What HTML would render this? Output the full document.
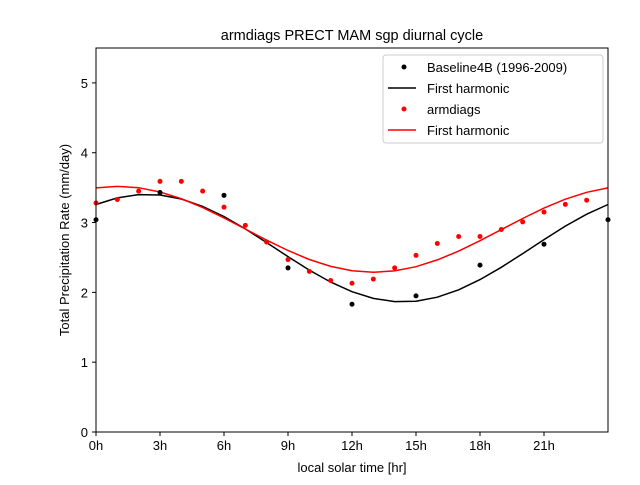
<!DOCTYPE html>
<html><head><meta charset="utf-8"><style>
body{margin:0;background:#fff}
svg{font-family:"Liberation Sans","DejaVu Sans",sans-serif}
</style></head><body>
<svg width="640" height="480" id="c">
<rect width="640" height="480" fill="#fff"/>
<text x="352" y="40" text-anchor="middle" font-size="14.5">armdiags PRECT MAM sgp diurnal cycle</text>
<text x="352" y="472" text-anchor="middle" font-size="13">local solar time [hr]</text>
<text transform="translate(69,240) rotate(-90)" text-anchor="middle" font-size="13">Total Precipitation Rate (mm/day)</text>
<g id="ticks"></g>
<g id="marks"></g>
<rect x="96" y="48" width="512" height="384" fill="none" stroke="#000" stroke-width="1"/>
<g>
<rect x="383" y="55" width="220" height="88" rx="3" fill="#fff" fill-opacity="0.8" stroke="#ccc"/>
<circle cx="404" cy="67" r="2.5" fill="#000"/><text x="427" y="72" font-size="13">Baseline4B (1996-2009)</text>
<line x1="388" y1="88" x2="416" y2="88" stroke="#000" stroke-width="1.5"/><text x="427" y="93" font-size="13">First harmonic</text>
<circle cx="404" cy="109" r="2.5" fill="red"/><text x="427" y="114" font-size="13">armdiags</text>
<line x1="388" y1="130" x2="416" y2="130" stroke="red" stroke-width="1.5"/><text x="427" y="135" font-size="13">First harmonic</text>
</g>
</svg>
<script>
const obsHours=[0,3,6,9,12,15,18,21,24];
const obsVals=[3.04,3.43,3.39,2.35,1.83,1.95,2.39,2.69,3.04];
const modHours=[0,1,2,3,4,5,6,7,8,9,10,11,12,13,14,15,16,17,18,19,20,21,22,23];
const modVals=[3.28,3.33,3.45,3.59,3.59,3.45,3.22,2.96,2.72,2.47,2.30,2.17,2.13,2.19,2.35,2.53,2.70,2.80,2.80,2.90,3.01,3.15,3.26,3.32];
const xTicks=[0,3,6,9,12,15,18,21];
const xTickLabels=["0h","3h","6h","9h","12h","15h","18h","21h"];
const yTicks=[0,1,2,3,4,5];
const X=h=>96+h*512/24, Y=v=>432-v*384/5.5;
const NS="http://www.w3.org/2000/svg";
function mk(t,a,p){const e=document.createElementNS(NS,t);for(const k in a)e.setAttribute(k,a[k]);p.appendChild(e);return e;}
const tg=document.getElementById('ticks'), mg=document.getElementById('marks');
xTicks.forEach((t,i)=>{const l=mk('line',{x1:X(t),x2:X(t),y1:432,y2:436,stroke:'#000'},tg);


const tx=mk('text',{x:X(t),y:450,'text-anchor':'middle','font-size':13},tg);tx.textContent=xTickLabels[i];

});
yTicks.forEach(t=>{const l=mk('line',{x1:92,x2:96,y1:Y(t),y2:Y(t),stroke:'#000'},tg);


const tx=mk('text',{x:88,y:Y(t)+5,'text-anchor':'end','font-size':13},tg);tx.textContent=t;

});
function harm(hs,vs){const n=hs.length;let m=0,a=0,b=0;for(let i=0;i<n;i++){const w=2*Math.PI*hs[i]/24;m+=vs[i];a+=vs[i]*Math.cos(w);b+=vs[i]*Math.sin(w);}
m/=n;a*=2/n;b*=2/n;return h=>m+a*Math.cos(2*Math.PI*h/24)+b*Math.sin(2*Math.PI*h/24);}
function curve(f,col,name){let d='';for(let h=0;h<=24;h+=1)d+=(h?'L':'M')+X(h).toFixed(1)+','+Y(f(h)).toFixed(1);
const p=mk('path',{d:d,fill:'none',stroke:col,'stroke-width':1.5},mg);

}
curve(harm(obsHours.slice(0,8),obsVals.slice(0,8)),'#000','obs-harmonic-line');
curve(harm(modHours,modVals),'red','model-harmonic-line');
obsHours.forEach((h,i)=>{const c=mk('circle',{cx:X(h),cy:Y(obsVals[i]),r:2.5,fill:'#000'},mg);

});
modHours.forEach((h,i)=>{const c=mk('circle',{cx:X(h),cy:Y(modVals[i]),r:2.5,fill:'red'},mg);

});
</script>
</body></html>
